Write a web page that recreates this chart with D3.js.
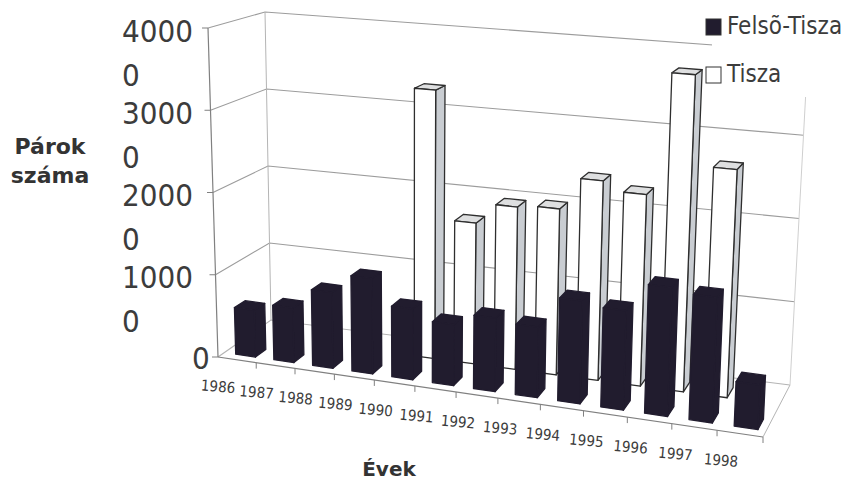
<!DOCTYPE html>
<html>
<head>
<meta charset="utf-8">
<script src="https://cdn.jsdelivr.net/npm/d3@7"></script>
<style>
  html, body { margin: 0; background: #fff; }
  svg { display: block; }
  text { font-family: "DejaVu Sans Condensed", "DejaVu Sans", sans-serif; fill: #3c3c3c; }
  .title { font-family: "DejaVu Sans", sans-serif; font-weight: bold; font-size: 22px; fill: #333; }
</style>
</head>
<body>
<svg id="chart" width="850" height="481"></svg>
<script>
  var years = [1986, 1987, 1988, 1989, 1990, 1991, 1992, 1993, 1994, 1995, 1996, 1997, 1998];
  var felsoTisza = [5700, 6600, 9100, 11400, 8400, 7200, 8600, 8200, 11900, 11400, 14700, 14200, 5000];
  var tisza = [null, null, null, null, 33000, 17200, 19700, 20000, 23900, 22800, 37500, 26800, null];
  var seriesNames = ['Felsõ-Tisza', 'Tisza'];
  var valueTicks = [0, 10000, 20000, 30000, 40000];

  // corners of the chart box on the page: [front/back][left/right]
  var floorBox = { fl: [218, 357], fr: [763, 437], bl: [271, 320], br: [790, 385] };
  var roofBox = { fl: [208, 28], fr: [779, 77], bl: [265, 12], br: [808, 52] };
  var perspective = 1.105;

  var svg = d3.select('#chart');

  var xScale = d3.scaleBand().domain(years).range([0, 1]);
  var depthScale = d3.scaleBand().domain(seriesNames).range([0.12, 0.82]).paddingInner(0.6);
  var valueScale = d3.scaleLinear().domain([0, 40000]).range([0, 1]);

  var mix = d3.interpolateArray;

  // s: along the years, d: into the page, v: up
  function project(s, d, v) {
    var sw = s / (perspective + (1 - perspective) * s);
    var floor = mix(mix(floorBox.fl, floorBox.fr)(sw), mix(floorBox.bl, floorBox.br)(sw))(d);
    var roof = mix(mix(roofBox.fl, roofBox.fr)(sw), mix(roofBox.bl, roofBox.br)(sw))(d);
    return mix(floor, roof)(v);
  }

  var line = d3.line();

  function poly(g, pts, fill, stroke, width) {
    g.append('path')
      .attr('d', line(pts) + 'Z')
      .attr('fill', fill)
      .attr('stroke', stroke)
      .attr('stroke-width', width)
      .attr('stroke-linejoin', 'round');
  }

  function wire(pts, color, width) {
    svg.append('path')
      .attr('d', line(pts))
      .attr('fill', 'none')
      .attr('stroke', color)
      .attr('stroke-width', width);
  }

  // walls and grid
  var wallColor = '#b4b4b4';
  valueTicks.forEach(function(t) {
    var v = valueScale(t);
    var color = t === 0 ? wallColor : '#9c9c9c';
    wire([project(0, 0, v), project(0, 1, v), project(1, 1, v)], color, 1.1);
  });
  wire([project(0, 1, 0), project(0, 1, 1)], wallColor, 1);
  wire([project(1, 1, 0), project(1, 1, 1)], '#cfcfcf', 1);
  wire([project(1, 0, 0), project(1, 1, 0)], wallColor, 1);

  // front axis and value axis
  wire([project(0, 0, 0), project(0, 0, 1)], '#808080', 1.2);
  wire([project(0, 0, 0), project(1, 0, 0)], '#808080', 1.2);
  years.forEach(function(y) {
    var s = xScale(y) + xScale.bandwidth();
    var p = project(s, 0, 0);
    wire([p, [p[0], p[1] + 6]], '#808080', 1);
  });
  valueTicks.forEach(function(t) {
    var p = project(0, 0, valueScale(t));
    wire([p, [p[0] - 6, p[1]]], '#808080', 1);
  });

  function drawBars(name, values, fills, stroke) {
    var g = svg.append('g').attr('class', 'series');
    var d0 = depthScale(name);
    var d1 = d0 + depthScale.bandwidth();
    values.forEach(function(val, i) {
      if (val === null) return;
      var s0 = xScale(years[i]) + xScale.bandwidth() * 0.3;
      var s1 = xScale(years[i]) + xScale.bandwidth() * 0.82;
      var v = valueScale(val);
      poly(g, [project(s1, d0, 0), project(s1, d1, 0), project(s1, d1, v), project(s1, d0, v)], fills.side, stroke, 1.3);
      poly(g, [project(s0, d0, v), project(s1, d0, v), project(s1, d1, v), project(s0, d1, v)], fills.top, stroke, 1.3);
      poly(g, [project(s0, d0, 0), project(s1, d0, 0), project(s1, d0, v), project(s0, d0, v)], fills.front, stroke, 1.3);
    });
  }

  drawBars('Tisza', tisza, { front: '#ffffff', side: '#c9cdd2', top: '#dedfe0' }, '#2e2e2e');
  drawBars('Felsõ-Tisza', felsoTisza, { front: '#211c2e', side: '#211c2e', top: '#211c2e' }, '#211c2e');

  // year labels, tilted along the front edge
  years.forEach(function(y) {
    var p = project(xScale(y) + xScale.bandwidth() / 2, 0, 0);
    var tx = p[0] - 19, ty = p[1] + 27.5;
    svg.append('text')
      .attr('transform', 'translate(' + tx + ',' + ty + ') rotate(5)')
      .attr('text-anchor', 'middle')
      .attr('dominant-baseline', 'middle')
      .attr('font-size', 15)
      .text(y);
  });

  // value labels wrap after four characters, as in the source
  valueTicks.forEach(function(t) {
    var p = project(0, 0, valueScale(t));
    var label = String(t);
    if (label.length > 4) {
      svg.append('text').attr('x', 122).attr('y', p[1] + 5)
        .attr('dominant-baseline', 'middle').attr('font-size', 31).text(label.slice(0, 4));
      svg.append('text').attr('x', 122).attr('y', p[1] + 49)
        .attr('dominant-baseline', 'middle').attr('font-size', 31).text(label.slice(4));
    }
    else {
      svg.append('text').attr('x', 192).attr('y', p[1] + 3)
        .attr('dominant-baseline', 'middle').attr('font-size', 31).text(label);
    }
  });

  // axis titles
  svg.append('text').attr('class', 'title').attr('x', 50).attr('y', 154).attr('text-anchor', 'middle').text('Párok');
  svg.append('text').attr('class', 'title').attr('x', 50).attr('y', 183).attr('text-anchor', 'middle').text('száma');
  svg.append('text').attr('class', 'title').attr('x', 389).attr('y', 476).attr('text-anchor', 'middle').style('font-size', '20px').text('Évek');

  // legend sits on an opaque box, hiding the end of the top grid line
  svg.append('rect').attr('x', 712).attr('y', 0).attr('width', 138).attr('height', 97).attr('fill', '#fff');
  var legendRows = [
    { name: seriesNames[0], fill: '#211c2e', y: 27 },
    { name: seriesNames[1], fill: '#fff', y: 75 }
  ];
  legendRows.forEach(function(row) {
    svg.append('rect').attr('x', 706).attr('y', row.y - 8).attr('width', 15).attr('height', 16)
      .attr('fill', row.fill).attr('stroke', '#333').attr('stroke-width', 1);
    svg.append('text').attr('x', 727).attr('y', row.y)
      .attr('dominant-baseline', 'middle').attr('font-size', 24).text(row.name);
  });
</script>
</body>
</html>
